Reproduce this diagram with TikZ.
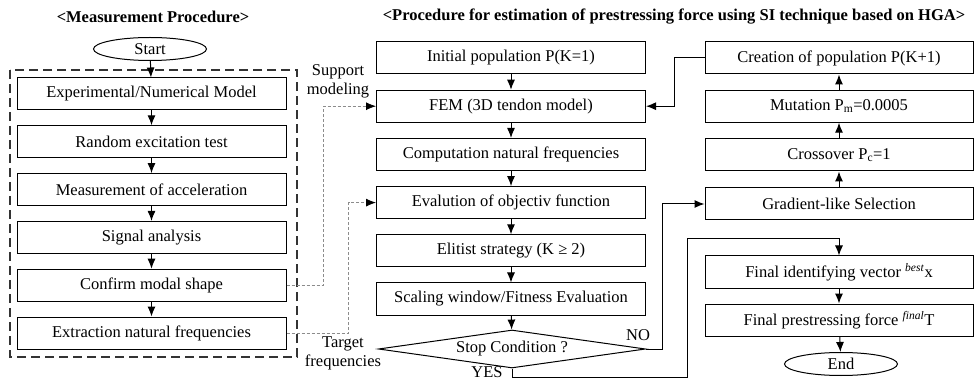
\documentclass[tikz,border=0pt]{standalone}
\usepackage{fontspec}
\setmainfont{Liberation Serif}
\usetikzlibrary{arrows.meta,shapes.geometric}

\begin{document}
\begin{tikzpicture}[x=1pt,y=-1pt,font=\fontsize{16.5}{19}\selectfont,
  >={Latex[length=10pt,width=8pt]},
  box/.style={draw,line width=1pt,minimum width=269pt,minimum height=32pt,inner sep=0pt},
  term/.style={draw,ellipse,line width=1pt,minimum width=113pt,minimum height=23pt,inner sep=0pt},
  cond/.style={draw,diamond,aspect=7,line width=1pt,minimum width=267pt,minimum height=38pt,inner sep=0pt},
  arr/.style={->,line width=1pt},
  dsh/.style={-{Latex[length=10pt,width=8pt,color=black]},black!45,dash pattern=on 3pt off 2pt,line width=0.8pt},
  ttl/.style={font=\fontsize{16.5}{19}\selectfont\bfseries}]
\useasboundingbox (0,0) rectangle (974,379);
\node[ttl] (t1) at (153,17) {<Measurement Procedure>};
\node[ttl] (t2) at (674,17) {<Procedure for estimation of prestressing force using SI technique based on HGA>};
\draw[line width=1.3pt,black!80,dash pattern=on 9pt off 5pt] (10,70) rectangle (297,357);
\node[term] (start) at (150,49) {Start};
\node[box] (exp) at (151.5,94) {Experimental/Numerical Model};
\node[box] (rand) at (151.5,141.8) {Random excitation test};
\node[box] (meas) at (151.5,189.6) {Measurement of acceleration};
\node[box] (sig) at (151.5,237.4) {Signal analysis};
\node[box] (conf) at (151.5,285.2) {Confirm modal shape};
\node[box] (extr) at (151.5,333) {Extraction natural frequencies};
\node[box] (init) at (511,58) {Initial population P(K=1)};
\node[box] (fem) at (511,106.2) {FEM (3D tendon model)};
\node[box] (comp) at (511,154.4) {Computation natural frequencies};
\node[box] (eval) at (511,202.6) {Evalution of objectiv function};
\node[box] (elit) at (511,250.8) {Elitist strategy (K ≥ 2)};
\node[box] (scal) at (511,299) {Scaling window/Fitness Evaluation};
\node[cond] (stop) at (512,349) {Stop Condition ?};
\node[box,minimum width=268pt] (crea) at (839,58) {Creation of population P(K+1)};
\node[box,minimum width=268pt] (mut) at (839,106.2) {Mutation P\textsubscript{m}=0.0005};
\node[box,minimum width=268pt] (cross) at (839,155) {Crossover P\textsubscript{c}=1};
\node[box,minimum width=268pt] (grad) at (839,204) {Gradient-like Selection};
\node[box,minimum width=268pt] (fid) at (839,272) {Final identifying vector \textsuperscript{\textit{best}}x};
\node[box,minimum width=268pt] (fpf) at (839,320) {Final prestressing force \textsuperscript{\textit{final}}T};
\node[term] (end) at (841,364) {End};
\node[align=center,inner sep=0pt] (sup) at (338,81) {Support\\modeling};
\node[align=center,inner sep=0pt] (tar) at (343,353) {Target\\frequencies};
\node[inner sep=0pt] (no) at (638,335) {NO};
\node[inner sep=0pt] (yes) at (487,372) {YES};
\coordinate (yb) at (687,239);
\draw[arr] (start)--(exp);
\draw[arr] (exp)--(rand);
\draw[arr] (rand)--(meas);
\draw[arr] (meas)--(sig);
\draw[arr] (sig)--(conf);
\draw[arr] (conf)--(extr);
\draw[arr] (init)--(fem);
\draw[arr] (fem)--(comp);
\draw[arr] (comp)--(eval);
\draw[arr] (eval)--(elit);
\draw[arr] (elit)--(scal);
\draw[arr] (scal)--(stop);
\draw[arr] (grad)--(cross);
\draw[arr] (cross)--(mut);
\draw[arr] (mut)--(crea);
\draw[arr] (fid)--(fpf);
\draw[arr] (fpf)--(end);
\draw[arr] (crea.west)--++(-30,0)|-(fem.east);
\draw[arr] (stop.east)--++(16,0)|-(grad.west);
\draw[arr] (stop.south)--++(0,9)-|(yb)-|(fid.north);
\draw[dsh] (conf.east)--++(37,0)|-(fem.west);
\draw[dsh] (extr.east)--++(62,0)|-(eval.west);
\end{tikzpicture}
\end{document}
